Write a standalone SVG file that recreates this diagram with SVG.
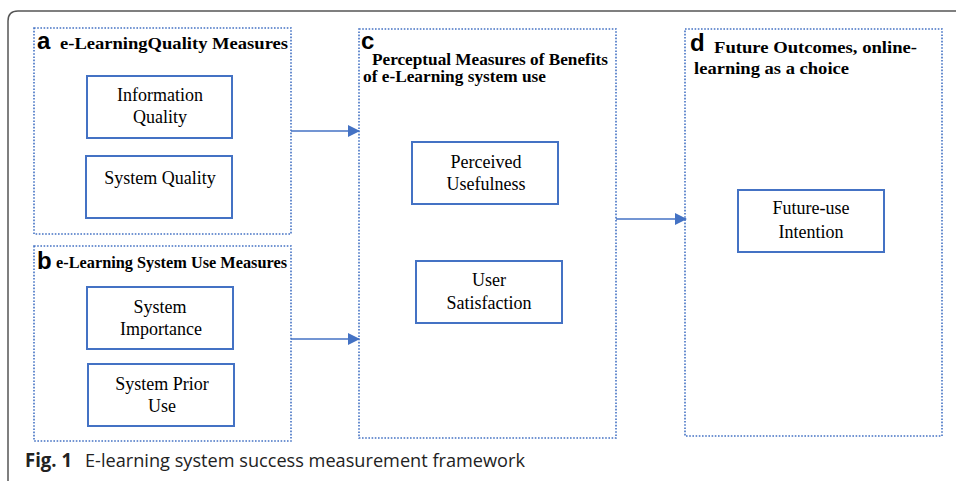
<svg xmlns="http://www.w3.org/2000/svg" width="956" height="481" viewBox="0 0 956 481">
<style>
.frame{fill:none;stroke:#555;stroke-width:1.5}
.grp{fill:#fff;stroke:#4472C4;stroke-width:1.6;stroke-dasharray:1.6 1.6}
.box{fill:#fff;stroke:#4472C4;stroke-width:2}
.lab{font-family:"Liberation Serif","Times New Roman",serif;font-weight:bold;font-size:16.5px;fill:#000}
.let{font-family:"Liberation Sans",Arial,sans-serif;font-weight:bold;font-size:24px;fill:#000}
.t{font-family:"Liberation Serif","Times New Roman",serif;font-size:18px;fill:#000;text-anchor:middle}
.cap{font-family:"Open Sans","Noto Sans",sans-serif;font-size:19px;fill:#222}
.conn{stroke:#4472C4;stroke-width:1.3;fill:none;marker-end:url(#ah)}
</style>
<defs>
<marker id="ah" viewBox="0 0 12 12" refX="11" refY="6" markerWidth="12" markerHeight="12" markerUnits="userSpaceOnUse" orient="auto">
<path d="M0,0 L12,6 L0,12 Z" fill="#4472C4"/>
</marker>
</defs>
<rect width="956" height="481" fill="#fff"/>
<path class="frame" d="M8,481 V21 Q8,11 18,11 H956"/>

<g id="group-a">
<rect class="grp" x="34" y="28" width="257" height="206"/>
<text class="let" x="37" y="49">a</text>
<text class="lab" x="60" y="49" textLength="228" lengthAdjust="spacingAndGlyphs">e-LearningQuality Measures</text>
</g>
<g id="group-b">
<rect class="grp" x="34" y="246" width="257" height="195"/>
<text class="let" x="37" y="269">b</text>
<text class="lab" x="56" y="268" textLength="231" lengthAdjust="spacingAndGlyphs">e-Learning System Use Measures</text>
</g>
<g id="group-c">
<rect class="grp" x="359" y="29" width="257" height="409"/>
<text class="let" x="361" y="49">c</text>
<text class="lab" x="372" y="65" textLength="236" lengthAdjust="spacingAndGlyphs">Perceptual Measures of Benefits</text>
<text class="lab" x="363" y="82" textLength="183" lengthAdjust="spacingAndGlyphs">of e-Learning system use</text>
</g>
<g id="group-d">
<rect class="grp" x="685" y="29" width="257" height="407"/>
<text class="let" x="690" y="51">d</text>
<text class="lab" x="714" y="53" textLength="203" lengthAdjust="spacingAndGlyphs">Future Outcomes, online-</text>
<text class="lab" x="694" y="74" textLength="155" lengthAdjust="spacingAndGlyphs">learning as a choice</text>
</g>

<g id="information-quality">
<rect class="box" x="87" y="76" width="145" height="62"/>
<text class="t" x="160" y="101">Information</text>
<text class="t" x="160" y="123">Quality</text>
</g>
<g id="system-quality">
<rect class="box" x="86" y="156" width="146" height="62"/>
<text class="t" x="160" y="184">System Quality</text>
</g>
<g id="system-importance">
<rect class="box" x="87" y="287" width="146" height="62"/>
<text class="t" x="160" y="313">System</text>
<text class="t" x="161" y="335">Importance</text>
</g>
<g id="system-prior-use">
<rect class="box" x="88" y="364" width="146" height="62"/>
<text class="t" x="162" y="390">System Prior</text>
<text class="t" x="162" y="412">Use</text>
</g>
<g id="perceived-usefulness">
<rect class="box" x="412" y="142" width="146" height="62"/>
<text class="t" x="486" y="168">Perceived</text>
<text class="t" x="486" y="190">Usefulness</text>
</g>
<g id="user-satisfaction">
<rect class="box" x="416" y="261" width="146" height="62"/>
<text class="t" x="489" y="286">User</text>
<text class="t" x="489" y="309">Satisfaction</text>
</g>
<g id="future-use-intention">
<rect class="box" x="738" y="190" width="146" height="62"/>
<text class="t" x="811" y="214">Future-use</text>
<text class="t" x="811" y="238">Intention</text>
</g>

<g id="connectors">
<line class="conn" x1="291" y1="131" x2="359" y2="131"/>
<line class="conn" x1="291" y1="339" x2="359" y2="339"/>
<line class="conn" x1="616" y1="219" x2="686" y2="219"/>
</g>

<g id="caption">
<text class="cap" x="25" y="467" font-weight="bold" fill="#000" textLength="47" lengthAdjust="spacingAndGlyphs">Fig. 1</text>
<text class="cap" x="85" y="467" textLength="440" lengthAdjust="spacingAndGlyphs">E-learning system success measurement framework</text>
</g>
</svg>
